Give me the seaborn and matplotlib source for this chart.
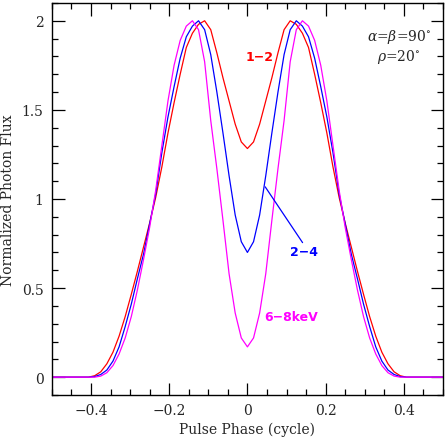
import numpy as np
import pandas as pd
import seaborn as sns
import matplotlib
matplotlib.use("Agg")
import matplotlib.pyplot as plt
from matplotlib.ticker import MultipleLocator

# pulse phase, 64 bins per cycle
phase = np.arange(-32, 33) / 64

# normalized photon flux for each band
flux_1_2 = [0, 0, 0, 0, 0, 0, 0, 0.008, 0.03, 0.075, 0.14, 0.23, 0.34, 0.465, 0.595, 0.73,
            0.865, 1.01, 1.18, 1.37, 1.54, 1.70, 1.85, 1.93, 1.98, 2.00, 1.95, 1.82, 1.68,
            1.55, 1.42, 1.32, 1.283,
            1.32, 1.42, 1.55, 1.68, 1.82, 1.95, 2.00, 1.98, 1.93, 1.85, 1.70, 1.54, 1.37,
            1.18, 1.01, 0.865, 0.73, 0.595, 0.465, 0.34, 0.23, 0.14, 0.075, 0.03, 0.008,
            0, 0, 0, 0, 0, 0, 0]
flux_2_4 = [0, 0, 0, 0, 0, 0, 0, 0.003, 0.015, 0.04, 0.09, 0.17, 0.284, 0.41, 0.553, 0.69,
            0.86, 1.03, 1.26, 1.46, 1.63, 1.79, 1.91, 1.97, 2.00, 1.95, 1.81, 1.60, 1.37,
            1.13, 0.91, 0.76, 0.70,
            0.76, 0.91, 1.13, 1.37, 1.60, 1.81, 1.95, 2.00, 1.97, 1.91, 1.79, 1.63, 1.46,
            1.26, 1.03, 0.86, 0.69, 0.553, 0.41, 0.284, 0.17, 0.09, 0.04, 0.015, 0.003,
            0, 0, 0, 0, 0, 0, 0]
flux_6_8 = [0, 0, 0, 0, 0, 0, 0, 0, 0.006, 0.025, 0.065, 0.13, 0.22, 0.34, 0.49, 0.66,
            0.84, 1.05, 1.30, 1.55, 1.75, 1.89, 1.97, 2.00, 1.95, 1.77, 1.44, 1.17, 0.88,
            0.58, 0.36, 0.22, 0.17,
            0.22, 0.36, 0.58, 0.88, 1.17, 1.44, 1.77, 1.95, 2.00, 1.97, 1.89, 1.75, 1.55,
            1.30, 1.05, 0.84, 0.66, 0.49, 0.34, 0.22, 0.13, 0.065, 0.025, 0.006, 0,
            0, 0, 0, 0, 0, 0, 0]

bands = ["1-2", "2-4", "6-8"]
band_colors = {"1-2": "#ff0000", "2-4": "#0000ff", "6-8": "#ff00ff"}

df = pd.concat([
    pd.DataFrame({"phase": phase, "flux": flux_1_2, "band": "1-2"}),
    pd.DataFrame({"phase": phase, "flux": flux_2_4, "band": "2-4"}),
    pd.DataFrame({"phase": phase, "flux": flux_6_8, "band": "6-8"}),
], ignore_index=True)

sns.set_style("ticks")
plt.rcParams["font.family"] = ["DejaVu Serif"]
plt.rcParams["mathtext.fontset"] = "dejavuserif"

fig = plt.figure(figsize=(4.47, 4.39), dpi=100)
ax = fig.add_axes([0.116, 0.098, 0.875, 0.893])

sns.lineplot(data=df, x="phase", y="flux", hue="band", hue_order=bands,
             palette=band_colors, linewidth=0.9, legend=False, ax=ax)

ax.set_xlim(-0.5, 0.5)
ax.set_ylim(-0.1, 2.1)
ax.xaxis.set_minor_locator(MultipleLocator(0.05))
ax.yaxis.set_minor_locator(MultipleLocator(0.1))
ax.set_xticks([-0.4, -0.2, 0, 0.2, 0.4])
ax.set_xticklabels(["\u22120.4", "\u22120.2", "0", "0.2", "0.4"])
ax.set_yticks([0, 0.5, 1, 1.5, 2])
ax.set_yticklabels(["0", "0.5", "1", "1.5", "2"])
ax.tick_params(which="both", direction="in", top=True, right=True, labelsize=10,
               color="black", width=0.9)
ax.tick_params(which="major", length=9, pad=6)
ax.tick_params(which="minor", length=4.5)
for sp in ax.spines.values():
    sp.set_linewidth(1.0)
    sp.set_color("black")

ax.set_xlabel("Pulse Phase (cycle)", fontsize=10, labelpad=3)
ax.set_ylabel("Normalized Photon Flux", fontsize=10, labelpad=5)

lab = dict(fontsize=9, fontweight="bold", family=["DejaVu Sans"], ha="left", va="center")
ax.text(-0.005, 1.80, "1\u22122", color="#ff0000", **lab)
ax.plot([0.0455, 0.141], [1.068, 0.755], color="#0000ff", linewidth=0.9)
ax.text(0.11, 0.705, "2\u22124", color="#0000ff", **lab)
ax.text(0.043, 0.342, "6\u22128keV", color="#ff00ff", **lab)
ax.text(0.388, 1.915, r"$\alpha$=$\beta$=90$^{\circ}$", fontsize=10, ha="center", va="center")
ax.text(0.388, 1.80, r"$\rho$=20$^{\circ}$", fontsize=10, ha="center", va="center")

fig.savefig("out.png", dpi=100)
